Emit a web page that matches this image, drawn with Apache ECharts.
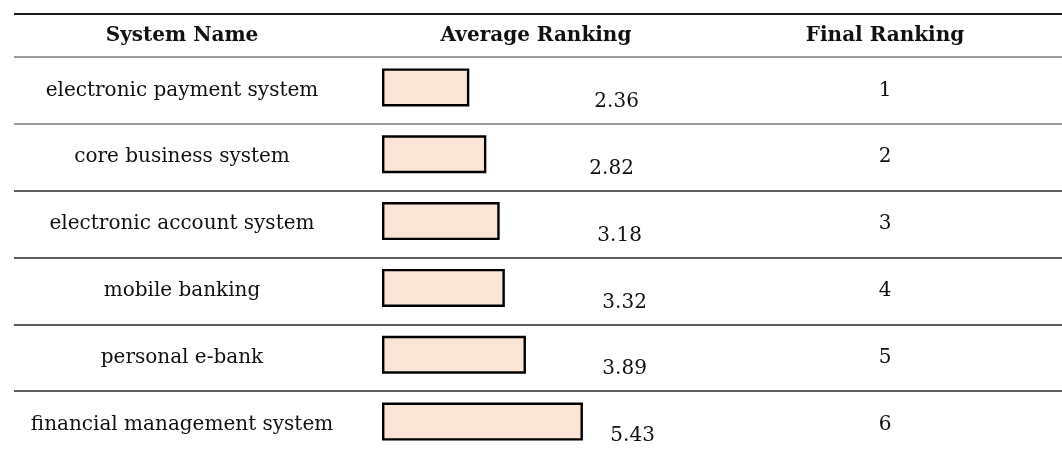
<!DOCTYPE html>
<html>
<head>
<meta charset="utf-8">
<script src="https://cdn.jsdelivr.net/npm/echarts@6/dist/echarts.min.js"></script>
<style>html,body{margin:0;padding:0;background:#fff}#c{width:1062px;height:454px}</style>
</head>
<body>
<div id="c"></div>
<script>
const headers = ['System Name', 'Average Ranking', 'Final Ranking'];
const systemNames = ['electronic payment system', 'core business system', 'electronic account system', 'mobile banking', 'personal e-bank', 'financial management system'];
const averageRanking = [2.36, 2.82, 3.18, 3.32, 3.89, 5.43];
const finalRanking = ['1', '2', '3', '4', '5', '6'];

const FONT = '"DejaVu Serif", serif';
const labelColumn = 6.49;               // axis units where the value labels sit
const labelNudge = [-5, -10, -2, 3, 3, 11]; // small per-row px nudges seen in the reference

const chart = echarts.init(document.getElementById('c'), null, {renderer: 'canvas'});
chart.setOption({
  animation: false,
  backgroundColor: '#ffffff',
  grid: {left: 14, right: 0, top: 57, height: 401, outerBoundsMode: 'none', containLabel: false},
  xAxis: {type: 'value', min: -9.946, max: 18.378, show: false, splitLine: {show: false}},
  yAxis: [
    {
      type: 'category', data: systemNames, inverse: true, position: 'left',
      axisLine: {show: false}, axisTick: {show: false},
      splitLine: {show: true, lineStyle: {color: ['#7a7a7a', '#7a7a7a', '#2a2a2a', '#2a2a2a', '#2a2a2a', '#2a2a2a', '#2a2a2a'], width: 1.5}},
      axisLabel: {inside: true, margin: 168, align: 'center', fontFamily: FONT, fontSize: 20, color: '#111'}
    },
    {
      type: 'category', data: finalRanking, inverse: true, position: 'right',
      axisLine: {show: false}, axisTick: {show: false}, splitLine: {show: false},
      axisLabel: {inside: true, margin: 177, align: 'center', fontFamily: FONT, fontSize: 20, color: '#111'}
    }
  ],
  graphic: [
    {type: 'line', shape: {x1: 14, y1: 14, x2: 1062, y2: 14}, style: {stroke: '#1a1a1a', lineWidth: 2}},
    {type: 'text', x: 182, y: 36, style: {text: headers[0], font: 'bold 20px "DejaVu Serif", serif', fill: '#111', align: 'center', verticalAlign: 'middle'}},
    {type: 'text', x: 536, y: 36, style: {text: headers[1], font: 'bold 20px "DejaVu Serif", serif', fill: '#111', align: 'center', verticalAlign: 'middle'}},
    {type: 'text', x: 885, y: 36, style: {text: headers[2], font: 'bold 20px "DejaVu Serif", serif', fill: '#111', align: 'center', verticalAlign: 'middle'}}
  ],
  series: [
    {
      type: 'bar', yAxisIndex: 0, data: averageRanking, barWidth: 38, barGap: 0,
      itemStyle: {color: '#FBE5D6', borderColor: '#000', borderWidth: 2.4}
    },
    {
      type: 'bar', yAxisIndex: 0, data: averageRanking.map(() => null), barWidth: 6, silent: true
    },
    {
      type: 'scatter', yAxisIndex: 0, symbolSize: 1, silent: true,
      itemStyle: {color: '#ffffff', opacity: 1},
      data: averageRanking.map((v, i) => ({
        value: [labelColumn, i, v],
        label: {offset: [labelNudge[i], 12]}
      })),
      label: {
        show: true, position: [0, 0], align: 'center', verticalAlign: 'middle',
        fontFamily: FONT, fontSize: 20, color: '#111', opacity: 1,
        textBorderWidth: 0,
        formatter: p => p.value[2].toFixed(2)
      }
    }
  ]
});
</script>
</body>
</html>
